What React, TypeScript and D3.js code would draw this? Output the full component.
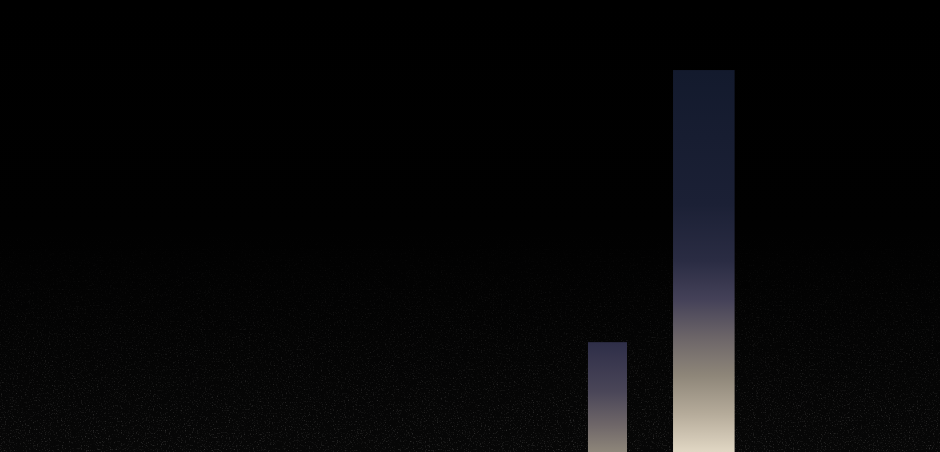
import { useRef, useEffect } from 'react';
import * as d3 from 'd3';

// two bars, variable width (start + width on a 0..100 x axis), height on 0..100 y axis
const categories = ['before', 'after'];
const xStarts = [62.55, 71.6];
const xWidths = [4.15, 6.55];
const values = [24.3, 84.5];

const W = 940;
const H = 452;

const App = () => {
    const svgRef = useRef<SVGSVGElement | null>(null);

    useEffect(() => {
        const svgElement = svgRef.current;
        if (!svgElement) return;

        const svg = d3.select(svgElement);
        svg.selectAll('*').remove();

        const x = d3.scaleLinear().domain([0, 100]).range([0, W]);
        const y = d3.scaleLinear().domain([0, 100]).range([H, 0]);

        const defs = svg.append('defs');

        // background: black fading into a faint grainy dark grey at the bottom
        const bg = defs.append('linearGradient')
            .attr('id', 'bg')
            .attr('x1', 0).attr('y1', 0).attr('x2', 0).attr('y2', 1);
        bg.append('stop').attr('offset', '0').attr('stop-color', '#000000');
        bg.append('stop').attr('offset', '0.5').attr('stop-color', '#010101');
        bg.append('stop').attr('offset', '1').attr('stop-color', '#070707');

        const grainFade = defs.append('linearGradient')
            .attr('id', 'grainFade')
            .attr('x1', 0).attr('y1', 0).attr('x2', 0).attr('y2', 1);
        grainFade.append('stop').attr('offset', '0.5').attr('stop-color', '#fff').attr('stop-opacity', 0);
        grainFade.append('stop').attr('offset', '1').attr('stop-color', '#fff').attr('stop-opacity', 1);
        defs.append('mask').attr('id', 'grainMask')
            .append('rect').attr('width', W).attr('height', H).attr('fill', 'url(#grainFade)');

        const noise = defs.append('filter').attr('id', 'grain')
            .attr('x', 0).attr('y', 0).attr('width', '100%').attr('height', '100%');
        noise.append('feTurbulence')
            .attr('type', 'fractalNoise')
            .attr('baseFrequency', 0.75)
            .attr('numOctaves', 2)
            .attr('seed', 3);
        noise.append('feColorMatrix')
            .attr('type', 'matrix')
            .attr('values', '0 0 0 0 0.3  0 0 0 0 0.29  0 0 0 0 0.28  0 0 0 3 -1.75');

        // per-bar gradients, navy at the top into warm beige at the bottom
        const barStops: [number, string][][] = [
            [[0, '#2e2e48'], [0.45, '#4a4658'], [0.75, '#6e6668'], [1, '#8e867a']],
            [[0, '#131a2d'], [0.35, '#1b2035'], [0.5, '#2a2c43'], [0.6, '#444158'],
             [0.7, '#6c6568'], [0.8, '#8e8679'], [0.9, '#b5ab9a'], [1, '#e1d7c4']],
        ];
        barStops.forEach((stops, i) => {
            const g = defs.append('linearGradient')
                .attr('id', `bar${i}`)
                .attr('x1', 0).attr('y1', 0).attr('x2', 0).attr('y2', 1);
            stops.forEach(([o, c]) => g.append('stop').attr('offset', o).attr('stop-color', c));
        });

        svg.append('rect')
            .attr('width', W)
            .attr('height', H)
            .attr('fill', 'url(#bg)');

        svg.append('rect')
            .attr('width', W)
            .attr('height', H)
            .attr('filter', 'url(#grain)')
            .attr('mask', 'url(#grainMask)')
            .attr('opacity', 0.35);

        svg.append('g')
            .selectAll('rect')
            .data(categories)
            .join('rect')
            .attr('x', (_, i) => x(xStarts[i]))
            .attr('width', (_, i) => x(xWidths[i]) - x(0))
            .attr('y', (_, i) => y(values[i]))
            .attr('height', (_, i) => y(0) - y(values[i]))
            .attr('fill', (_, i) => `url(#bar${i})`);
    }, []);

    return (
        <div style={{ position: 'fixed', left: 0, top: 0, width: W, height: H, background: '#000' }}>
            <svg ref={svgRef} width={W} height={H} style={{ display: 'block' }}></svg>
        </div>
    );
};

export default App;
